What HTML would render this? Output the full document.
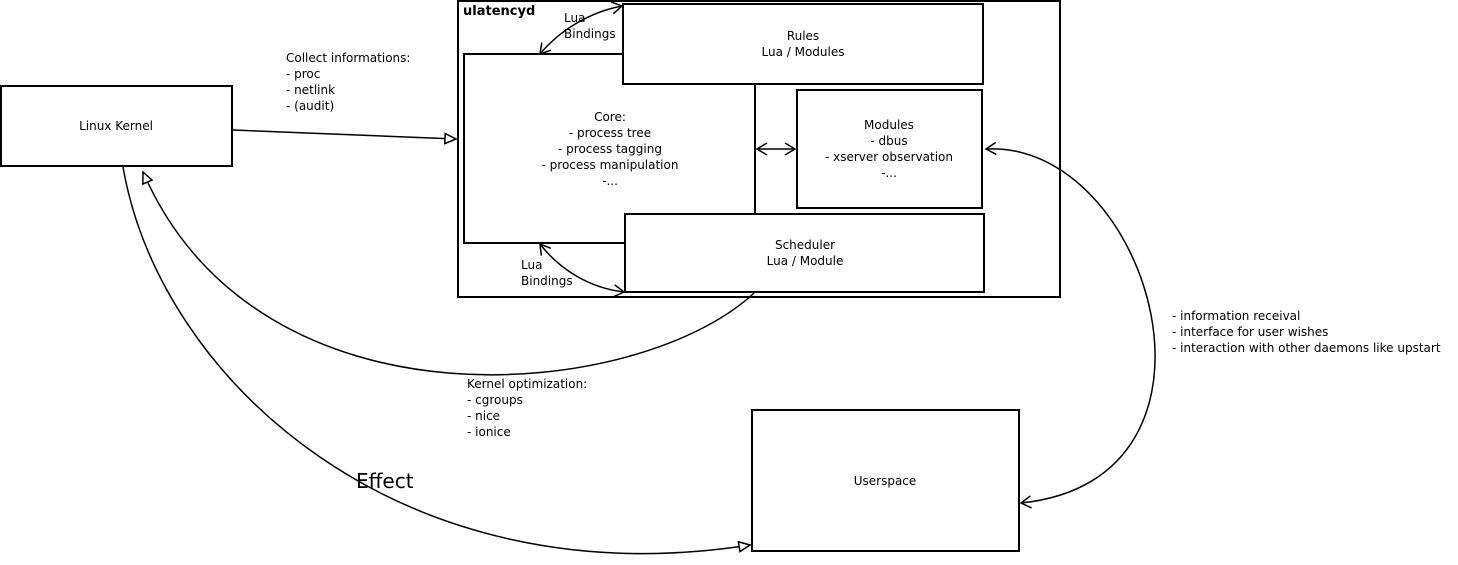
<!DOCTYPE html>
<html><head><meta charset="utf-8"><style>
html,body{margin:0;padding:0;background:#fff;}
svg{display:block;}
text{font-family:"DejaVu Sans","Liberation Sans",sans-serif;font-size:12px;fill:#000;}
</style></head><body>
<svg width="1458" height="565" viewBox="0 0 1458 565" xmlns="http://www.w3.org/2000/svg">
<defs>
<marker id="tri" markerWidth="14" markerHeight="12" refX="12" refY="6" orient="auto" markerUnits="userSpaceOnUse">
<path d="M1,1 L12,6 L1,11 Z" fill="#fff" stroke="#000" stroke-width="1.5"/>
</marker>
<marker id="open" markerWidth="14" markerHeight="14" refX="11" refY="7" orient="auto" markerUnits="userSpaceOnUse">
<path d="M1,1 L11,7 L1,13" fill="none" stroke="#000" stroke-width="1.5"/>
</marker>
<marker id="openS" markerWidth="14" markerHeight="14" refX="3" refY="7" orient="auto" markerUnits="userSpaceOnUse">
<path d="M13,1 L3,7 L13,13" fill="none" stroke="#000" stroke-width="1.5"/>
</marker>
</defs>
<g fill="#fff" stroke="#000" stroke-width="2">
<rect x="1" y="86" width="231" height="80"/>
<rect x="458" y="1" width="602" height="296"/>
<rect x="464" y="54" width="291" height="189"/>
<rect x="623" y="4" width="360" height="80"/>
<rect x="797" y="90" width="185" height="118"/>
<rect x="625" y="214" width="359" height="78"/>
<rect x="752" y="410" width="267" height="141"/>
</g>
<g fill="none" stroke="#000" stroke-width="1.5">
<path d="M232,130 L456,139" marker-end="url(#tri)"/>
<path d="M757,149 L795,149" marker-start="url(#openS)" marker-end="url(#open)"/>
<path d="M754,293 C640,400 260,440 143,172" marker-end="url(#tri)"/>
<path d="M123,167 C160,380 400,600 750,545" marker-end="url(#tri)"/>
<path d="M986,149 C1150,140 1250,480 1021,503" marker-start="url(#openS)" marker-end="url(#open)"/>
<path d="M540,54 C560,30 590,12 622,6" marker-start="url(#openS)" marker-end="url(#open)"/>
<path d="M540,244 C560,270 590,288 624,292" marker-start="url(#openS)" marker-end="url(#open)"/>
</g>
<text x="463" y="15" style="font-weight:bold;font-size:13px">ulatencyd</text>
<text x="116" y="130" text-anchor="middle">Linux Kernel</text>
<text x="286" y="62">Collect informations:</text>
<text x="286" y="78">- proc</text>
<text x="286" y="94">- netlink</text>
<text x="286" y="110">- (audit)</text>
<text x="564" y="22">Lua</text>
<text x="564" y="38">Bindings</text>
<text x="521" y="269">Lua</text>
<text x="521" y="285">Bindings</text>
<text x="803" y="40" text-anchor="middle">Rules</text>
<text x="803" y="56" text-anchor="middle">Lua / Modules</text>
<g text-anchor="middle">
<text x="610" y="121">Core:</text>
<text x="610" y="137">- process tree</text>
<text x="610" y="153">- process tagging</text>
<text x="610" y="169">- process manipulation</text>
<text x="610" y="185">-...</text>
<text x="889" y="129">Modules</text>
<text x="889" y="145">- dbus</text>
<text x="889" y="161">- xserver observation</text>
<text x="889" y="177">-...</text>
<text x="805" y="249">Scheduler</text>
<text x="805" y="265">Lua / Module</text>
<text x="885" y="485">Userspace</text>
</g>
<text x="467" y="388">Kernel optimization:</text>
<text x="467" y="404">- cgroups</text>
<text x="467" y="420">- nice</text>
<text x="467" y="436">- ionice</text>
<text x="1172" y="320">- information receival</text>
<text x="1172" y="336">- interface for user wishes</text>
<text x="1172" y="352">- interaction with other daemons like upstart</text>
<text x="356" y="488" style="font-size:20px">Effect</text>
</svg>
</body></html>
